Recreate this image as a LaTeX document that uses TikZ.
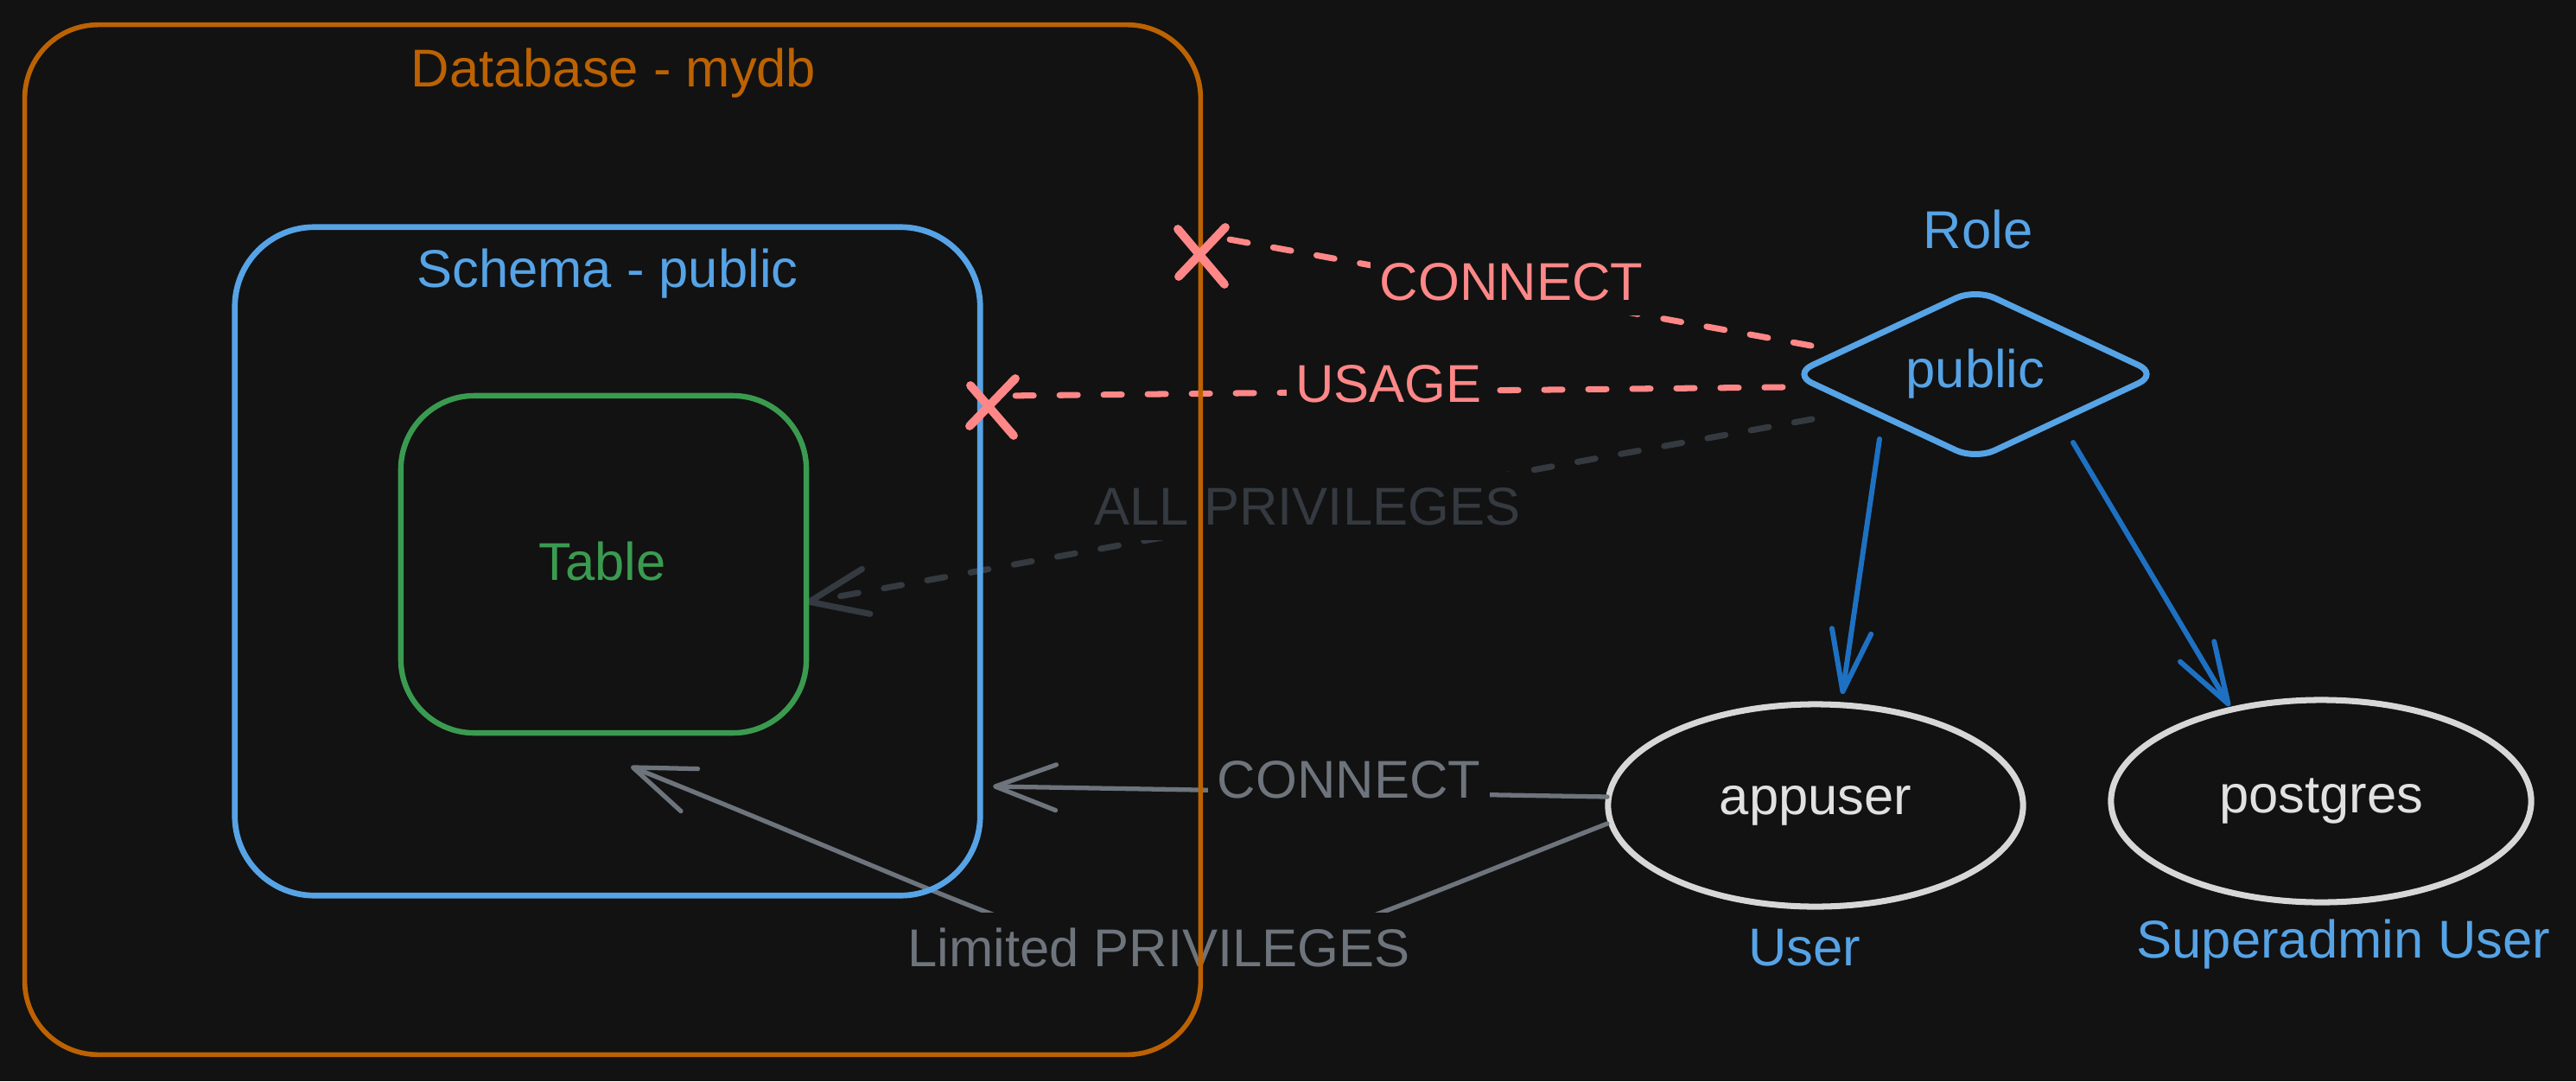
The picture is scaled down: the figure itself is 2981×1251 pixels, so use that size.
\documentclass[tikz,border=0pt]{standalone}
\usepackage{fontspec}
\setmainfont{Liberation Sans}
\usetikzlibrary{shapes.geometric,arrows.meta,calc}
\definecolor{bgc}{RGB}{18,18,18}
\definecolor{dbc}{RGB}{188,98,2}
\definecolor{schc}{RGB}{86,163,230}
\definecolor{tblc}{RGB}{58,155,80}
\definecolor{redc}{RGB}{255,135,135}
\definecolor{grayc}{RGB}{110,116,124}
\definecolor{dgrayc}{RGB}{52,58,64}
\definecolor{ellc}{RGB}{215,215,215}
\definecolor{txtw}{RGB}{225,225,225}
\definecolor{arrblue}{RGB}{30,113,194}
\pgfdeclarelayer{fg}
\pgfsetlayers{main,fg}
\begin{document}
\begin{tikzpicture}[x=0.01cm,y=-0.01cm,
  every node/.style={font=\fontsize{17.5pt}{21pt}\selectfont, inner sep=0pt, outer sep=0pt},
  box/.style={draw, line width=1.7pt, minimum width=#1},
  dbbox/.style={draw=dbc, line width=1.6pt, rounded corners=0.85cm},
  schbox/.style={draw=schc, line width=1.9pt, rounded corners=0.92cm},
  tblbox/.style={draw=tblc, line width=1.8pt, rounded corners=0.85cm},
  usernode/.style={ellipse, draw=ellc, line width=2pt, text=txtw},
  rolenode/.style={diamond, draw=schc, line width=2pt, rounded corners=7pt, aspect=2.14, text=schc},
  lbl/.style={anchor=base},
  conlbl/.style={anchor=base, fill=bgc, inner xsep=3pt, inner ysep=5pt},
  reddash/.style={draw=redc, line width=2pt, line cap=round, dash pattern=on 6pt off 8.5pt},
  graydash/.style={draw=dgrayc, line width=2pt, line cap=round, dash pattern=on 6pt off 8.5pt,
    -{Straight Barb[length=19pt,width=15pt,round]}},
  grayarr/.style={draw=grayc, line width=1.5pt, line cap=round,
    -{Straight Barb[length=20pt,width=15pt,round]}},
  bluearr/.style={draw=arrblue, line width=1.7pt, line cap=round,
    -{Straight Barb[length=20pt,width=13pt,round]}},
  xmark/.style={draw=redc, line width=2.8pt, line cap=round}
]
\useasboundingbox (0,0) rectangle (2981,1251);
\fill[bgc] (0,0) rectangle (2981,1251);

% containers (drawn on top layer)
\begin{pgfonlayer}{fg}
\node[dbbox, minimum width=13.6cm, minimum height=11.91cm] (db) at (709,624.5) {};
\node[schbox, minimum width=8.62cm, minimum height=7.73cm] (sch) at (703,649.5) {};
\node[tblbox, minimum width=4.69cm, minimum height=3.9cm] (tbl) at (698.5,653) {};
\end{pgfonlayer}

\node[lbl, text=dbc] (dblbl) at (710,100) {Database - mydb};
\node[lbl, text=schc] (schlbl) at (703,332) {Schema - public};
\node[lbl, text=tblc] (tbllbl) at (697,671) {Table};

% role and users
\node[rolenode, minimum width=4.22cm, minimum height=1.97cm] (pub) at (2286,433) {public};
\node[lbl, text=schc] (rolelbl) at (2289,287) {Role};
\node[usernode, minimum width=4.8cm, minimum height=2.34cm] (app) at (2101,932) {appuser};
\node[usernode, minimum width=4.86cm, minimum height=2.34cm] (pg) at (2686,927) {postgres};
\node[lbl, text=schc] (userlbl) at (2088,1117) {User};
\node[lbl, text=schc] (sulbl) at (2712,1108) {Superadmin User};

% connection points
\coordinate (pubC) at (2096,400);
\coordinate (pubU) at (2063,448);
\coordinate (pubA) at (2097,485);
\coordinate (pubL) at (2175,508);
\coordinate (pubR) at (2399,512);
\coordinate (dbX) at (1395,272);
\coordinate (dbXc) at (1390,296);
\coordinate (schX) at (1160,458);
\coordinate (schXc) at (1148,471);
\coordinate (tblA) at (933,697);
\coordinate (schG) at (1149,910);
\coordinate (tblL) at (730,887);
\coordinate (appC) at (1860,922);
\coordinate (appL) at (1860,953);
\coordinate (appT) at (2132,803);
\coordinate (pgT) at (2580,817);

% connectors
\draw[reddash] (pubC) -- (dbX);
\draw[reddash] (pubU) -- (schX);
\draw[graydash] (pubA) -- (tblA);
\draw[grayarr] (appC) -- (schG);
\draw[grayarr] (appL) .. controls (1283,1179) and (1430,1167) .. (tblL);
\draw[bluearr] (pubL) -- (appT);
\draw[bluearr] (pubR) -- (pgT);

% connector labels
\node[conlbl, text=redc] (rconn) at (1749,347) {CONNECT};
\node[conlbl, text=redc] (usage) at (1607,465) {USAGE};
\node[conlbl, text=dgrayc] (allp) at (1513,607) {ALL PRIVILEGES};
\node[conlbl, text=grayc] (gconn) at (1561,923) {CONNECT};
\node[conlbl, text=grayc] (limp) at (1341,1118) {Limited PRIVILEGES};

% cross marks (denied)
\begin{pgfonlayer}{fg}
\draw[xmark] ($(dbXc)+(-27,-31)$) -- ($(dbXc)+(27,33)$);
\draw[xmark] ($(dbXc)+(28,-33)$) -- ($(dbXc)+(-26,24)$);
\draw[xmark] ($(schXc)+(-25,-25)$) -- ($(schXc)+(25,33)$);
\draw[xmark] ($(schXc)+(27,-33)$) -- ($(schXc)+(-26,22)$);
\end{pgfonlayer}
\end{tikzpicture}
\end{document}
